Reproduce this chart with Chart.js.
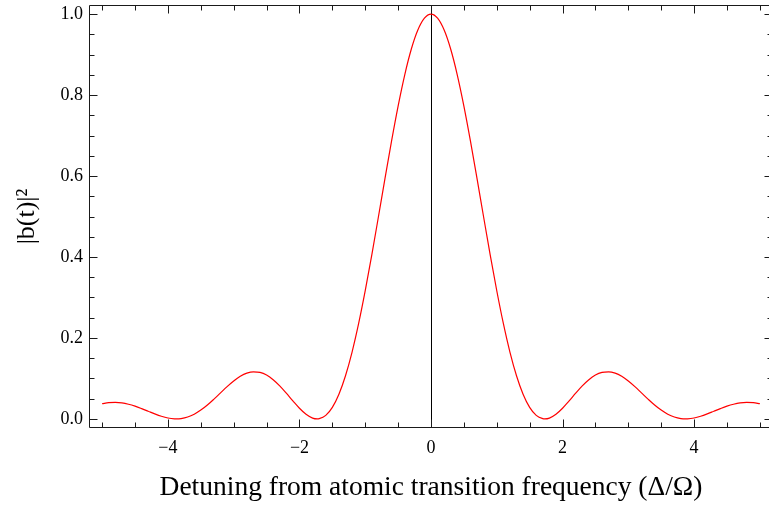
<!DOCTYPE html>
<html>
<head>
<meta charset="utf-8">
<title>Excitation probability vs detuning</title>
<script src="https://cdn.jsdelivr.net/npm/chart.js@4.4.1/dist/chart.umd.min.js"></script>
<style>
  html, body { margin: 0; padding: 0; background: #fff; overflow: hidden; }
  #plot { display: block; }
</style>
</head>
<body>
<canvas id="plot" width="776" height="508"></canvas>
<script>
// detuning Delta/Omega and the excited-state population |b(t)|^2
const detuning = [
  -5, -4.9, -4.8, -4.7, -4.6, -4.5, -4.4, -4.3, -4.2, -4.1,
  -4, -3.9, -3.87, -3.8, -3.7, -3.6, -3.5, -3.4, -3.3, -3.2,
  -3.1, -3, -2.9, -2.8, -2.7, -2.6, -2.5, -2.4, -2.3, -2.2,
  -2.1, -2, -1.9, -1.8, -1.73, -1.7, -1.6, -1.5, -1.4, -1.3,
  -1.2, -1.1, -1, -0.9, -0.8, -0.7, -0.6, -0.5, -0.4, -0.3,
  -0.2, -0.1, 0,
  0.1, 0.2, 0.3, 0.4, 0.5, 0.6, 0.7, 0.8, 0.9, 1,
  1.1, 1.2, 1.3, 1.4, 1.5, 1.6, 1.7, 1.73, 1.8, 1.9,
  2, 2.1, 2.2, 2.3, 2.4, 2.5, 2.6, 2.7, 2.8, 2.9,
  3, 3.1, 3.2, 3.3, 3.4, 3.5, 3.6, 3.7, 3.8, 3.87,
  3.9, 4, 4.1, 4.2, 4.3, 4.4, 4.5, 4.6, 4.7, 4.8,
  4.9, 5
];
const population = [
  0.0375, 0.0400, 0.0406, 0.0394, 0.0362, 0.0315, 0.0255, 0.0189, 0.0123, 0.0065,
  0.0022, 0.0001, 0, 0.0008, 0.0046, 0.0116, 0.0217, 0.0343, 0.0489, 0.0644,
  0.0797, 0.0936, 0.1051, 0.1129, 0.1163, 0.1148, 0.1082, 0.0968, 0.0815, 0.0634,
  0.0444, 0.0263, 0.0114, 0.0020, 0, 0.0005, 0.0088, 0.0286, 0.0611, 0.1067,
  0.1652, 0.2358, 0.3166, 0.4052, 0.4988, 0.5937, 0.6863, 0.7728, 0.8495, 0.9131,
  0.9606, 0.9900, 1.0000,
  0.9900, 0.9606, 0.9131, 0.8495, 0.7728, 0.6863, 0.5937, 0.4988, 0.4052, 0.3166,
  0.2358, 0.1652, 0.1067, 0.0611, 0.0286, 0.0088, 0.0005, 0, 0.0020, 0.0114,
  0.0263, 0.0444, 0.0634, 0.0815, 0.0968, 0.1082, 0.1148, 0.1163, 0.1129, 0.1051,
  0.0936, 0.0797, 0.0644, 0.0489, 0.0343, 0.0217, 0.0116, 0.0046, 0.0008, 0,
  0.0001, 0.0022, 0.0065, 0.0123, 0.0189, 0.0255, 0.0315, 0.0362, 0.0394, 0.0406,
  0.0400, 0.0375
];
const xTicks = [-4, -2, 0, 2, 4];
const yTicks = [0, 0.2, 0.4, 0.6, 0.8, 1.0];

const serif = "'Liberation Serif', 'Times New Roman', serif";

// box frame with inward ticks on all four sides (minor every 0.5 / 0.05)
const frameTicks = {
  id: 'frameTicks',
  afterDatasetsDraw(chart) {
    const { ctx, chartArea: a, scales: { x, y } } = chart;
    ctx.save();
    ctx.strokeStyle = '#1a1a1a';
    ctx.lineWidth = 1;
    ctx.beginPath();
    const L = Math.round(a.left) + 0.5, R = Math.round(a.right) - 0.5;
    const T = Math.round(a.top) + 0.5, B = Math.round(a.bottom) - 0.5;
    ctx.rect(L, T, R - L, B - T);
    for (let i = -10; i <= 10; i++) {
      const px = Math.round(x.getPixelForValue(i / 2)) + 0.5;
      const len = i % 4 === 0 ? 8 : 5;
      ctx.moveTo(px, B); ctx.lineTo(px, B - len);
      ctx.moveTo(px, T); ctx.lineTo(px, T + len);
    }
    for (let i = 0; i <= 20; i++) {
      const py = Math.round(y.getPixelForValue(i / 20)) + 0.5;
      const len = i % 4 === 0 ? 8 : 5;
      ctx.moveTo(L, py); ctx.lineTo(L + len, py);
      ctx.moveTo(R, py); ctx.lineTo(R - len, py);
    }
    ctx.stroke();
    ctx.restore();
  }
};

const minus = v => (v < 0 ? '\u2212' + Math.abs(v) : String(v));

new Chart(document.getElementById('plot'), {
  type: 'line',
  data: {
    datasets: [{
      data: detuning.map((d, i) => ({ x: d, y: population[i] })),
      borderColor: '#ff0000',
      borderWidth: 1.2,
      pointRadius: 0,
      fill: false,
      cubicInterpolationMode: 'monotone'
    }]
  },
  options: {
    responsive: false,
    animation: false,
    layout: { padding: { top: 5, right: 3, left: 0, bottom: 0 } },
    plugins: { legend: { display: false }, tooltip: { enabled: false } },
    scales: {
      x: {
        type: 'linear',
        min: -5.2,
        max: 5.2,
        afterBuildTicks: s => { s.ticks = xTicks.map(v => ({ value: v })); },
        afterFit: s => { s.height = 80; s.paddingLeft = 0; s.paddingRight = 0; },
        ticks: {
          callback: v => minus(v),
          font: { family: serif, size: 18 },
          color: '#000',
          padding: 9,
          maxRotation: 0,
          autoSkip: false
        },
        grid: {
          drawTicks: false,
          tickLength: 0,
          lineWidth: 1,
          color: c => (c.tick && c.tick.value === 0 ? '#000' : 'rgba(0,0,0,0)')
        },
        border: { display: false },
        title: {
          display: true,
          text: 'Detuning from atomic transition frequency (\u0394/\u03A9)',
          font: { family: serif, size: 27.5 },
          color: '#000',
          padding: { top: 0, bottom: 4 }
        }
      },
      y: {
        type: 'linear',
        min: -0.0225,
        max: 1.0225,
        afterBuildTicks: s => { s.ticks = yTicks.map(v => ({ value: v })); },
        afterFit: s => { s.width = 89; s.paddingTop = 0; s.paddingBottom = 0; },
        ticks: {
          callback: v => v.toFixed(1),
          font: { family: serif, size: 18 },
          color: '#000',
          padding: 6
        },
        grid: { display: false, drawTicks: false, tickLength: 0 },
        border: { display: false },
        title: {
          display: true,
          text: '|b(t)|\u00B2',
          font: { family: serif, size: 26 },
          color: '#000',
          padding: { top: 12, bottom: 0 }
        }
      }
    }
  },
  plugins: [frameTicks]
});
</script>
</body>
</html>
